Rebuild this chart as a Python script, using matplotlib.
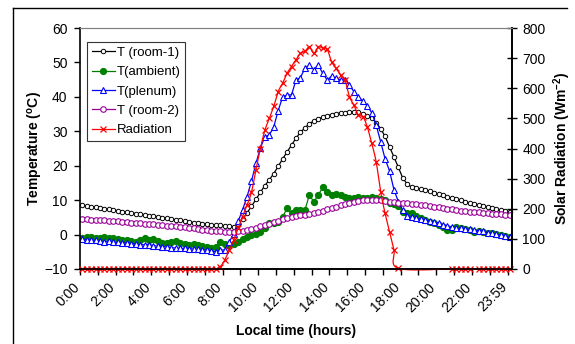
import matplotlib
matplotlib.use("Agg")
import matplotlib.pyplot as plt
from matplotlib.lines import Line2D
from matplotlib.transforms import ScaledTranslation
import numpy as np

plt.rcParams['font.family'] = ['Liberation Sans', 'DejaVu Sans']
plt.rcParams['mathtext.fontset'] = 'custom'
plt.rcParams['mathtext.rm'] = 'Liberation Sans'
plt.rcParams['mathtext.bf'] = 'Liberation Sans:bold'

# 15-minute readings, 0:00 ... 23:45 plus a last one at 23:59 (97 categories)
tick_labels = ['0:00', '2:00', '4:00', '6:00', '8:00', '10:00', '12:00',
               '14:00', '16:00', '18:00', '20:00', '22:00', '23:59']

t_room1 = [8.5, 8.3, 8.1, 7.9, 7.7, 7.5, 7.3, 7.1, 6.9, 6.7, 6.5, 6.3, 6.1, 5.9,
           5.7, 5.5, 5.3, 5.1, 4.9, 4.7, 4.5, 4.3, 4.1, 3.9, 3.7, 3.5, 3.3, 3.1,
           3.0, 2.9, 2.8, 2.7, 2.6, 2.5, 2.3, 3.0, 4.5, 6.3, 8.2, 10.2, 12.3,
           14.2, 15.9, 17.7, 19.8, 22.0, 24.0, 26.0, 28.0, 29.7, 31.0, 32.2,
           33.0, 33.6, 34.1, 34.5, 34.8, 35.1, 35.3, 35.4, 35.5, 35.6, 35.5,
           35.0, 34.5, 33.8, 32.5, 30.8, 28.5, 25.5, 22.5, 19.5, 16.3, 14.7,
           13.7, 13.4, 13.2, 12.9, 12.6, 12.2, 11.8, 11.4, 11.0, 10.6, 10.2,
           9.9, 9.6, 9.2, 8.9, 8.6, 8.3, 8.0, 7.7, 7.4, 7.1, 6.8, 6.6]

t_ambient = [-1.1, -0.8, -0.6, -1.0, -0.9, -0.6, -0.9, -1.1, -1.3, -1.5, -1.6,
             -1.9, -2.1, -1.6, -1.1, -1.6, -1.3, -1.8, -2.4, -2.5, -2.1, -2.0,
             -2.4, -2.8, -3.0, -2.6, -3.0, -3.2, -3.5, -4.0, -3.6, -2.1, -2.8,
             -3.0, -2.6, -2.1, -1.3, -0.6, -0.1, 0.3, 0.8, 1.8, 3.3, 3.5, 3.7,
             5.2, 7.6, 6.2, 7.1, 7.0, 7.1, 11.5, 9.5, 11.5, 13.7, 12.5, 11.5,
             11.7, 11.5, 11.0, 10.5, 10.7, 11.0, 10.6, 10.5, 11.0, 10.5, 10.2,
             10.0, 9.1, 8.8, 8.2, 6.6, 6.4, 6.2, 5.4, 4.7, 4.2, 3.7, 3.3, 2.8,
             2.2, 1.3, 1.3, 2.3, 2.0, 1.6, 1.2, 0.8, 0.9, 0.8, 0.6, 0.4, 0.2,
             0.0, -0.3, -0.6]

t_plenum = [-1.4, -1.5, -1.6, -1.7, -1.9, -2.1, -2.0, -2.2, -2.3, -2.4, -2.5,
            -2.6, -2.8, -2.9, -3.0, -2.9, -3.2, -3.4, -3.5, -3.6, -3.8, -3.9,
            -4.0, -4.0, -4.1, -4.2, -4.3, -4.4, -4.6, -4.8, -5.0, -4.6, -4.4,
            -2.2, 0.3, 3.8, 7.2, 11.0, 15.5, 20.7, 25.1, 28.4, 28.9, 31.3,
            36.0, 40.0, 40.5, 40.6, 44.9, 45.6, 48.3, 49.2, 47.9, 49.3, 46.8,
            44.9, 46.0, 45.4, 44.9, 45.0, 43.4, 41.5, 40.0, 38.8, 37.4, 35.4,
            31.8, 27.0, 22.0, 18.5, 13.0, 9.5, 7.0, 5.3, 5.1, 4.8, 4.4, 4.2,
            4.0, 3.7, 3.3, 2.8, 2.6, 2.2, 1.8, 1.8, 1.6, 1.5, 1.3, 1.1, 0.9,
            0.6, 0.4, 0.1, -0.2, -0.5, -0.8]

t_room2 = [4.4, 4.4, 4.3, 4.3, 4.2, 4.1, 4.0, 3.9, 3.8, 3.7, 3.6, 3.5, 3.4,
           3.3, 3.2, 3.1, 3.0, 2.9, 2.8, 2.6, 2.5, 2.4, 2.3, 2.1, 2.0, 1.8,
           1.6, 1.4, 1.3, 1.1, 1.0, 0.9, 0.8, 0.8, 0.8, 0.9, 1.0, 1.3, 1.6,
           2.0, 2.4, 2.8, 3.2, 3.6, 4.0, 4.4, 4.8, 5.1, 5.4, 5.6, 5.8, 6.0,
           6.2, 6.5, 6.9, 7.3, 7.7, 8.1, 8.5, 8.9, 9.2, 9.5, 9.8, 10.0, 10.1,
           10.1, 10.0, 9.9, 9.7, 9.5, 9.4, 9.3, 9.2, 9.1, 9.0, 8.8, 8.7, 8.5,
           8.3, 8.1, 7.9, 7.7, 7.5, 7.3, 7.1, 6.9, 6.8, 6.7, 6.6, 6.5, 6.3,
           6.2, 6.1, 6.0, 5.9, 5.8, 5.7]

nan = float('nan')
radiation = ([0] * 31 +
             [8, 30, 63, 96, 135, 174, 212, 255, 330, 400, 460, 500, 540, 589,
              617, 650, 672, 694, 716, 722, 738, 716, 738, 733, 729, 688, 666,
              644, 627, 572, 544, 511, 506, 472, 417, 356, 257, 185, 124, 63, 2] +
             [nan] * 11 + [0] * 5 + [nan] + [0] * 8)

x = np.arange(len(t_room1))
rad = np.array(radiation, dtype=float)


def smooth_path(xs, ys, steps=12):
    # Excel-style smoothed line through the given points
    px, py = [], []
    n = len(xs)
    for k in range(n - 1):
        p0 = (xs[max(k - 1, 0)], ys[max(k - 1, 0)])
        p1 = (xs[k], ys[k])
        p2 = (xs[k + 1], ys[k + 1])
        p3 = (xs[min(k + 2, n - 1)], ys[min(k + 2, n - 1)])
        c1 = (p1[0] + (p2[0] - p0[0]) / 6, p1[1] + (p2[1] - p0[1]) / 6)
        c2 = (p2[0] - (p3[0] - p1[0]) / 6, p2[1] - (p3[1] - p1[1]) / 6)
        for s in np.linspace(0, 1, steps, endpoint=False):
            a, b, c, d = (1 - s) ** 3, 3 * s * (1 - s) ** 2, 3 * s * s * (1 - s), s ** 3
            px.append(a * p1[0] + b * c1[0] + c * c2[0] + d * p2[0])
            py.append(a * p1[1] + b * c1[1] + c * c2[1] + d * p2[1])
    px.append(xs[-1])
    py.append(ys[-1])
    return px, py


FS = 10

fig = plt.figure(figsize=(5.75, 3.44), dpi=100)
ax = fig.add_axes([80 / 575, 1 - 269 / 344, 432 / 575, 241 / 344])
ax2 = ax.twinx()

lw = 0.9
ax.plot(x, t_room1, color='black', lw=lw, marker='o', ms=3.2, mfc='white',
        mec='black', mew=0.7, label='T (room-1)', clip_on=False)
ax.plot(x, t_ambient, color='#008000', lw=lw, marker='o', ms=4.2,
        mfc='#008000', mec='#008000', label='T(ambient)')
ax.plot(x, t_plenum, color='#0000FF', lw=lw, marker='^', ms=4.5, mfc='white',
        mec='#0000FF', mew=0.8, label='T(plenum)')
ax.plot(x, t_room2, color='#990099', lw=lw, marker='o', ms=4.0, mfc='white',
        mec='#990099', mew=0.8, label='T (room-2)')

ok = ~np.isnan(rad)
sx, sy = smooth_path(x[ok], rad[ok])
ax2.plot(sx, sy, color='#FF0000', lw=lw, clip_on=False)
ax2.plot(x[ok], rad[ok], ls='none', marker='x', ms=4.2, mew=0.9,
         color='#FF0000', clip_on=False)

ax.set_xlim(-0.5, 96.5)
ax.set_ylim(-10, 60)
ax2.set_ylim(0, 800)
ax.set_yticks(range(-10, 61, 10))
ax2.set_yticks(range(0, 801, 100))

ax.set_xticks(range(0, 97, 8))
ax.set_xticklabels(tick_labels, rotation=45, ha='right', va='top')
shift = ScaledTranslation(-3 / 100, 0, fig.dpi_scale_trans)
for lab in ax.get_xticklabels():
    lab.set_transform(lab.get_transform() + shift)
ax.set_xticks(np.arange(-0.5, 96, 4), minor=True)
ax.tick_params(axis='x', which='major', length=0, pad=8, labelsize=FS)
ax.tick_params(axis='x', which='minor', length=4, width=1, direction='out')
ax.tick_params(axis='y', length=4, width=1, direction='out', labelsize=FS,
               pad=5)
ax2.tick_params(axis='y', length=7, width=1, direction='inout', labelsize=FS,
                pad=4)

for a in (ax, ax2):
    a.spines['top'].set_color('#808080')
    a.spines['left'].set_linewidth(1.2)
    a.spines['bottom'].set_linewidth(1.2)
    a.spines['right'].set_linewidth(1.2)
ax2.spines['left'].set_visible(False)

ax.set_ylabel(r'Temperature ($\mathbf{^{o}}$C)', fontsize=FS,
              fontweight='bold', labelpad=-1)
ax2.set_ylabel(r'Solar Radiation (Wm$\mathbf{^{-2}}$)', fontsize=FS,
               fontweight='bold', labelpad=4)
ax.set_xlabel('Local time (hours)', fontsize=FS, fontweight='bold',
              labelpad=7)

handles, labels = ax.get_legend_handles_labels()
handles.append(Line2D([], [], color='#FF0000', lw=lw, marker='x', ms=4.2,
                      mew=0.9))
labels.append('Radiation')
leg = ax2.legend(handles, labels, loc='upper left',
                 bbox_to_anchor=(0.016, 0.942), borderaxespad=0,
                 fontsize=9.5, frameon=True, fancybox=False, numpoints=1,
                 handlelength=1.75, handletextpad=0.15, labelspacing=0.54,
                 borderpad=0.35)
leg.get_frame().set_edgecolor('black')
leg.get_frame().set_linewidth(0.8)

# outer frame of the original figure
fig.add_artist(Line2D([13 / 575, 567 / 575], [1 - 8 / 344, 1 - 8 / 344],
                      color='black', lw=1, transform=fig.transFigure))
fig.add_artist(Line2D([13 / 575, 13 / 575], [0, 1 - 8 / 344],
                      color='black', lw=1, transform=fig.transFigure))

fig.savefig('out.png', dpi=100)
